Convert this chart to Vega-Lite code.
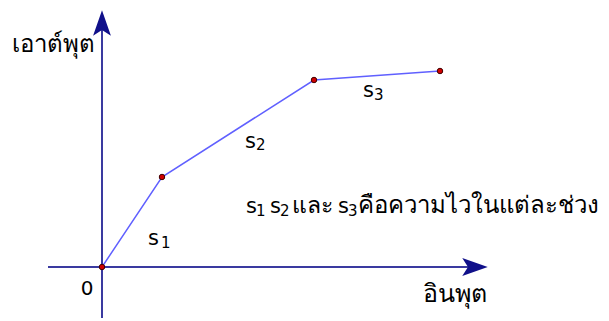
{
  "$schema": "https://vega.github.io/schema/vega-lite/v6.json",
  "width": 609,
  "height": 321,
  "autosize": {"type": "fit", "contains": "padding"},
  "padding": 0,
  "background": "white",
  "config": {"view": {"stroke": null}},
  "encoding": {
    "x": {"type": "quantitative", "scale": {"domain": [-102, 507], "nice": false, "zero": false}, "axis": null},
    "y": {"type": "quantitative", "scale": {"domain": [-54, 267], "nice": false, "zero": false}, "axis": null}
  },
  "layer": [
    {
      "data": {"values": [
        {"x": -54, "y": 0, "x2": 378, "y2": 0},
        {"x": 0, "y": -51, "x2": 0, "y2": 245}
      ]},
      "mark": {"type": "rule", "color": "#3a3aa0", "strokeWidth": 2},
      "encoding": {"x": {"field": "x"}, "y": {"field": "y"}, "x2": {"field": "x2"}, "y2": {"field": "y2"}}
    },
    {
      "data": {"values": [{"x": 0, "y": 244}]},
      "mark": {"type": "point", "shape": "M0,-1L0.7,1L0,0.55L-0.7,1Z", "size": 650, "filled": true, "color": "#10108a", "opacity": 1},
      "encoding": {"x": {"field": "x"}, "y": {"field": "y"}}
    },
    {
      "data": {"values": [{"x": 373, "y": 0}]},
      "mark": {"type": "point", "shape": "M1,0L-1,0.7L-0.55,0L-1,-0.7Z", "size": 650, "filled": true, "color": "#10108a", "opacity": 1},
      "encoding": {"x": {"field": "x"}, "y": {"field": "y"}}
    },
    {
      "data": {"values": [
        {"x": 0, "y": 0},
        {"x": 60, "y": 90},
        {"x": 212, "y": 187},
        {"x": 338, "y": 196}
      ]},
      "mark": {"type": "line", "color": "#6060ff", "strokeWidth": 1.5},
      "encoding": {"x": {"field": "x"}, "y": {"field": "y"}}
    },
    {
      "data": {"values": [
        {"x": 0, "y": 0},
        {"x": 60, "y": 90},
        {"x": 212, "y": 187},
        {"x": 338, "y": 196}
      ]},
      "mark": {"type": "point", "filled": true, "size": 30, "color": "#d00000", "stroke": "#400000", "strokeWidth": 1, "opacity": 1},
      "encoding": {"x": {"field": "x"}, "y": {"field": "y"}}
    },
    {
      "data": {"values": [
        {"x": -90, "y": 215, "t": "เอาต์พุต"},
        {"x": 256, "y": 54, "t": "คือความไวในแต่ละช่วง"}
      ]},
      "mark": {"type": "text", "fontSize": 24, "font": "Tahoma, DejaVu Sans, sans-serif", "color": "black", "baseline": "alphabetic", "align": "left"},
      "encoding": {"x": {"field": "x"}, "y": {"field": "y"}, "text": {"field": "t"}}
    },
    {
      "data": {"values": [
        {"x": 321, "y": -35, "t": "อินพุต"}
      ]},
      "mark": {"type": "text", "fontSize": 25, "font": "Tahoma, DejaVu Sans, sans-serif", "color": "black", "baseline": "alphabetic", "align": "left"},
      "encoding": {"x": {"field": "x"}, "y": {"field": "y"}, "text": {"field": "t"}}
    },
    {
      "data": {"values": [
        {"x": 190, "y": 54, "t": "และ"}
      ]},
      "mark": {"type": "text", "fontSize": 23, "font": "Tahoma, DejaVu Sans, sans-serif", "color": "black", "baseline": "alphabetic", "align": "left"},
      "encoding": {"x": {"field": "x"}, "y": {"field": "y"}, "text": {"field": "t"}}
    },
    {
      "data": {"values": [
        {"x": 46, "y": 22, "t": "s"},
        {"x": 143, "y": 119, "t": "s"},
        {"x": 261, "y": 170, "t": "s"},
        {"x": 144, "y": 54, "t": "s"},
        {"x": 168, "y": 54, "t": "s"},
        {"x": 236, "y": 54, "t": "s"}
      ]},
      "mark": {"type": "text", "fontSize": 21, "font": "Tahoma, DejaVu Sans, sans-serif", "color": "black", "baseline": "alphabetic", "align": "left"},
      "encoding": {"x": {"field": "x"}, "y": {"field": "y"}, "text": {"field": "t"}}
    },
    {
      "data": {"values": [
        {"x": 59, "y": 19, "t": "1"},
        {"x": 154, "y": 117, "t": "2"},
        {"x": 272, "y": 167, "t": "3"},
        {"x": 154, "y": 51, "t": "1"},
        {"x": 178, "y": 51, "t": "2"},
        {"x": 246, "y": 51, "t": "3"}
      ]},
      "mark": {"type": "text", "fontSize": 15, "font": "Tahoma, DejaVu Sans, sans-serif", "color": "black", "baseline": "alphabetic", "align": "left"},
      "encoding": {"x": {"field": "x"}, "y": {"field": "y"}, "text": {"field": "t"}}
    },
    {
      "data": {"values": [{"x": -15, "y": -28, "t": "0"}]},
      "mark": {"type": "text", "fontSize": 20, "font": "Tahoma, DejaVu Sans, sans-serif", "color": "black", "baseline": "alphabetic", "align": "center"},
      "encoding": {"x": {"field": "x"}, "y": {"field": "y"}, "text": {"field": "t"}}
    }
  ]
}
